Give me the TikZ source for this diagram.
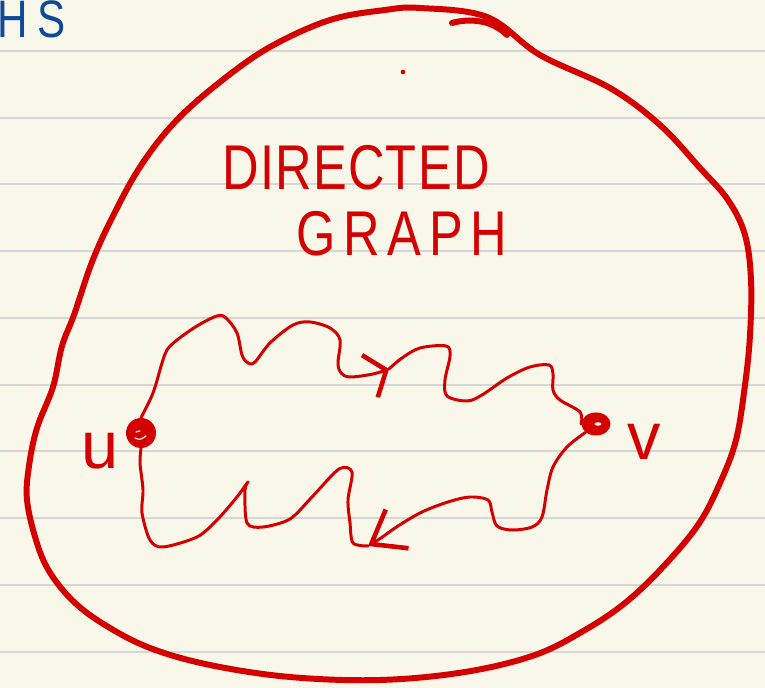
\documentclass[tikz,border=0pt]{standalone}
\usepackage{fontspec}
\usepackage{xcolor}
\newfontfamily\handfont[FakeStretch=0.8]{Liberation Sans}
\newfontfamily\labelfont{Liberation Sans}
\usetikzlibrary{arrows.meta,shapes.geometric}
\definecolor{inkred}{RGB}{212,0,0}
\definecolor{inkblue}{RGB}{14,74,152}
\definecolor{paper}{RGB}{249,247,234}
\definecolor{ruleline}{RGB}{214,214,214}

\begin{document}
\begin{tikzpicture}[x=0.02cm,y=-0.02cm,
    ink/.style={draw=inkred,line width=1.7pt,line cap=round,line join=round},
    hand/.style={text=inkred,inner sep=0pt,font=\handfont\fontsize{36}{36}\selectfont},
    lbl/.style={text=inkred,inner sep=0pt,font=\labelfont\fontsize{38}{38}\selectfont},
    barb/.style={-{Straight Barb[length=#1,width=9mm,line width=2.6pt]}}]
    % Paper
    \useasboundingbox (0,0) rectangle (765,688);
    \fill[paper] (0,0) rectangle (765,688);
    \clip (0,0) rectangle (765,688);
    \foreach \y in {51,118,184,251,318,385,451,518,585,652} {
      \draw[ruleline,line width=1pt] (0,\y) -- (765,\y);
    }
    % Page heading, cut at the edge
    \node[anchor=base west,inner sep=0pt,text=inkblue,
      font=\handfont\addfontfeature{LetterSpace=18}\fontsize{30}{30}\selectfont] (head) at (-3,38) {HS};
    % Outer outline
    \draw[inkred,line width=3.4pt,line cap=round,line join=round] plot[smooth cycle,tension=0.6] coordinates {
      (420,8) (487,17) (540,55) (610,88) (660,125) (700,168) (728,200) (745,235)
      (751,280) (750,335) (745,385) (736,440) (720,483) (698,525) (662,568)
      (625,603) (585,630) (535,655) (465,672) (380,680) (290,677) (210,665)
      (150,648) (105,625) (73,601) (49,571) (36,540) (27,500) (29,466) (37,428)
      (53,387) (62,346) (74,315) (92,262) (112,218) (140,167) (175,122)
      (220,82) (270,47) (330,20) (385,10)};
    \draw[inkred,line width=3.4pt,line cap=round] (452,23) .. controls (470,18) and (492,20) .. (507,35);
    \fill[inkred] (403,72) circle (1.3pt);
    % Title
    \node[hand] (title1) at (356,168) {\addfontfeature{LetterSpace=2}DIRECTED};
    \node[hand] (title2) at (402,234) {\addfontfeature{LetterSpace=12}GRAPH};
    % Vertices
    \node[circle,fill=inkred,inner sep=0pt,minimum size=0.6cm] (u) at (141,433) {};
    \node[ellipse,fill=inkred,inner sep=0pt,minimum width=0.58cm,minimum height=0.46cm] (v) at (596,424) {};
    \draw[paper,line width=0.7pt,line cap=round] (136,432) -- (140,431) (135,438) .. controls (140,440) .. (146,436);
    \fill[paper] (598,424) ellipse (0.07cm and 0.035cm);
    \node[lbl] (ulabel) at (100,451) {u};
    \node[lbl] (vlabel) at (644,442) {v};
    % Walk from u to v
    \coordinate (m1) at (389,369);
    \draw[ink,barb=3.5mm] plot[smooth,tension=0.55] coordinates {
      (u.north) (153,393) (162,363) (167,350) (177,340) (197,326) (217,316)
      (226,318) (237,333) (242,355) (248,363) (255,362) (270,343) (293,325)
      (310,322) (330,328) (340,340) (338,363) (341,373) (350,377) (373,374) (m1)};
    \draw[ink] plot[smooth,tension=0.55] coordinates {
      (m1) (402,358) (420,348) (446,346) (450,356) (445,380) (447,396)
      (467,401) (482,395) (507,378) (530,367) (549,365) (553,374) (553,390)
      (560,400) (580,412) (v.west)};
    % Walk from v back to u
    \coordinate (m2) at (368,546);
    \draw[ink,barb=6mm] plot[smooth,tension=0.55] coordinates {
      (v.south west) (567,447) (553,467) (547,490) (542,517) (532,527) (512,530)
      (497,526) (492,512) (488,500) (470,497) (448,502) (422,512) (398,526)
      (381,538) (m2)};
    \draw[ink] plot[smooth,tension=0.5] coordinates {
      (m2) (353,543) (350,523) (348,500) (352,472) (339,469) (312,497)
      (290,519) (263,527) (247,523) (245,490) (248,482) (237,497) (217,520)
      (197,537) (163,547) (150,540) (142,513) (143,490) (140,463) (u.south)};
\end{tikzpicture}
\end{document}
